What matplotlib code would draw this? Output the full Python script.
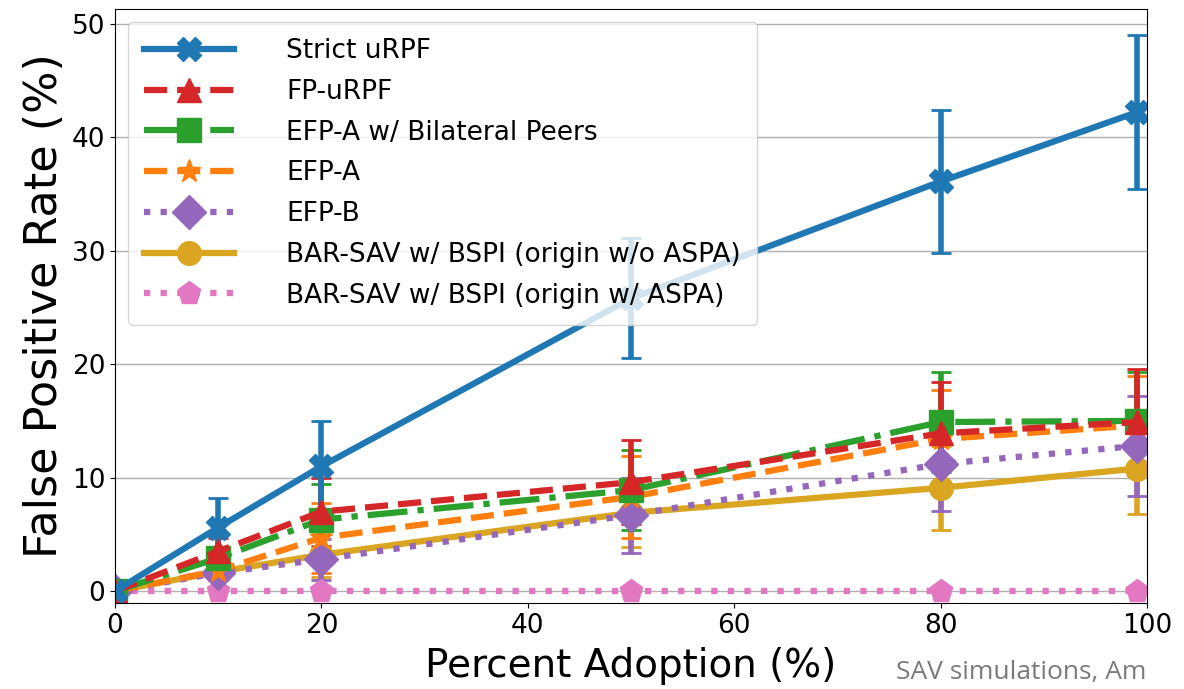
import matplotlib
matplotlib.use("Agg")
import matplotlib.pyplot as plt

# percent adoption (x) and false positive rate (%) per method
adoption = [0, 10, 20, 50, 80, 99]

labels = [
    "Strict uRPF",
    "FP-uRPF",
    "EFP-A w/ Bilateral Peers",
    "EFP-A",
    "EFP-B",
    "BAR-SAV w/ BSPI (origin w/o ASPA)",
    "BAR-SAV w/ BSPI (origin w/ ASPA)",
]

strict_urpf = [0, 5.6, 11.0, 25.8, 36.1, 42.2]
strict_urpf_err = [0, 2.6, 4.0, 5.3, 6.3, 6.8]
fp_urpf = [0, 3.5, 7.0, 9.6, 13.9, 14.9]
fp_urpf_err = [0, 1.2, 3.0, 3.7, 4.5, 4.7]
efp_a_bilateral = [0, 2.9, 6.3, 8.9, 14.9, 15.0]
efp_a_bilateral_err = [0, 1.0, 3.1, 3.5, 4.4, 4.3]
efp_a = [0, 1.8, 4.7, 8.3, 13.4, 14.6]
efp_a_err = [0, 0.8, 3.1, 3.6, 4.3, 4.4]
efp_b = [0, 1.6, 2.8, 6.7, 11.2, 12.8]
efp_b_err = [0, 0.6, 1.8, 3.3, 4.1, 4.4]
bar_sav_no_aspa = [0, 1.7, 3.2, 6.9, 9.1, 10.8]
bar_sav_no_aspa_err = [0, 0.7, 2.0, 3.0, 3.7, 4.0]
bar_sav_aspa = [0, 0, 0, 0, 0, 0]
bar_sav_aspa_err = [0, 0, 0, 0, 0, 0]

series = [strict_urpf, fp_urpf, efp_a_bilateral, efp_a, efp_b, bar_sav_no_aspa, bar_sav_aspa]
errors = [strict_urpf_err, fp_urpf_err, efp_a_bilateral_err, efp_a_err, efp_b_err,
          bar_sav_no_aspa_err, bar_sav_aspa_err]
colors = ["#1f77b4", "#d62728", "#2ca02c", "#ff7f0e", "#9467bd", "#daa520", "#e377c2"]
markers = ["X", "^", "s", "*", "D", "o", "p"]
styles = ["-", "--", "-.", "--", ":", "-", ":"]

fig = plt.figure(figsize=(11.84, 6.89), dpi=100)
ax = fig.add_axes([0.0971, 0.1248, 0.8717, 0.8621])

handles = [None] * len(series)
# draw in reverse so the first entries end up on top
for i in reversed(range(len(series))):
    cont = ax.errorbar(adoption, series[i], yerr=errors[i],
                       color=colors[i], marker=markers[i], linestyle=styles[i],
                       linewidth=4.5, markersize=17, elinewidth=4,
                       capsize=7, capthick=2, label=labels[i])
    handles[i] = cont[0]

ax.set_xlim(0, 100)
ax.set_ylim(-1.05, 51.3)
ax.set_xticks([0, 20, 40, 60, 80, 100])
ax.set_yticks([0, 10, 20, 30, 40, 50])
ax.tick_params(labelsize=19)
ax.grid(True, axis="y", color="#b0b0b0", linewidth=1)
ax.set_axisbelow(True)

ax.set_xlabel("Percent Adoption (%)", fontsize=28, labelpad=6)
ax.set_ylabel("False Positive Rate (%)", fontsize=32, labelpad=4)

ax.legend(handles, labels, loc="upper left", fontsize=19, handlelength=3.4,
          handletextpad=2.0, labelspacing=0.56, borderpad=0.6,
          bbox_to_anchor=(0.0, 1.0))

# leftover caption from the screenshot
fig.text(0.757, 0.014, "SAV simulations, Am", fontsize=19, color="#7a7a7a",
         family="Open Sans")

fig.savefig("out.png", dpi=100)
